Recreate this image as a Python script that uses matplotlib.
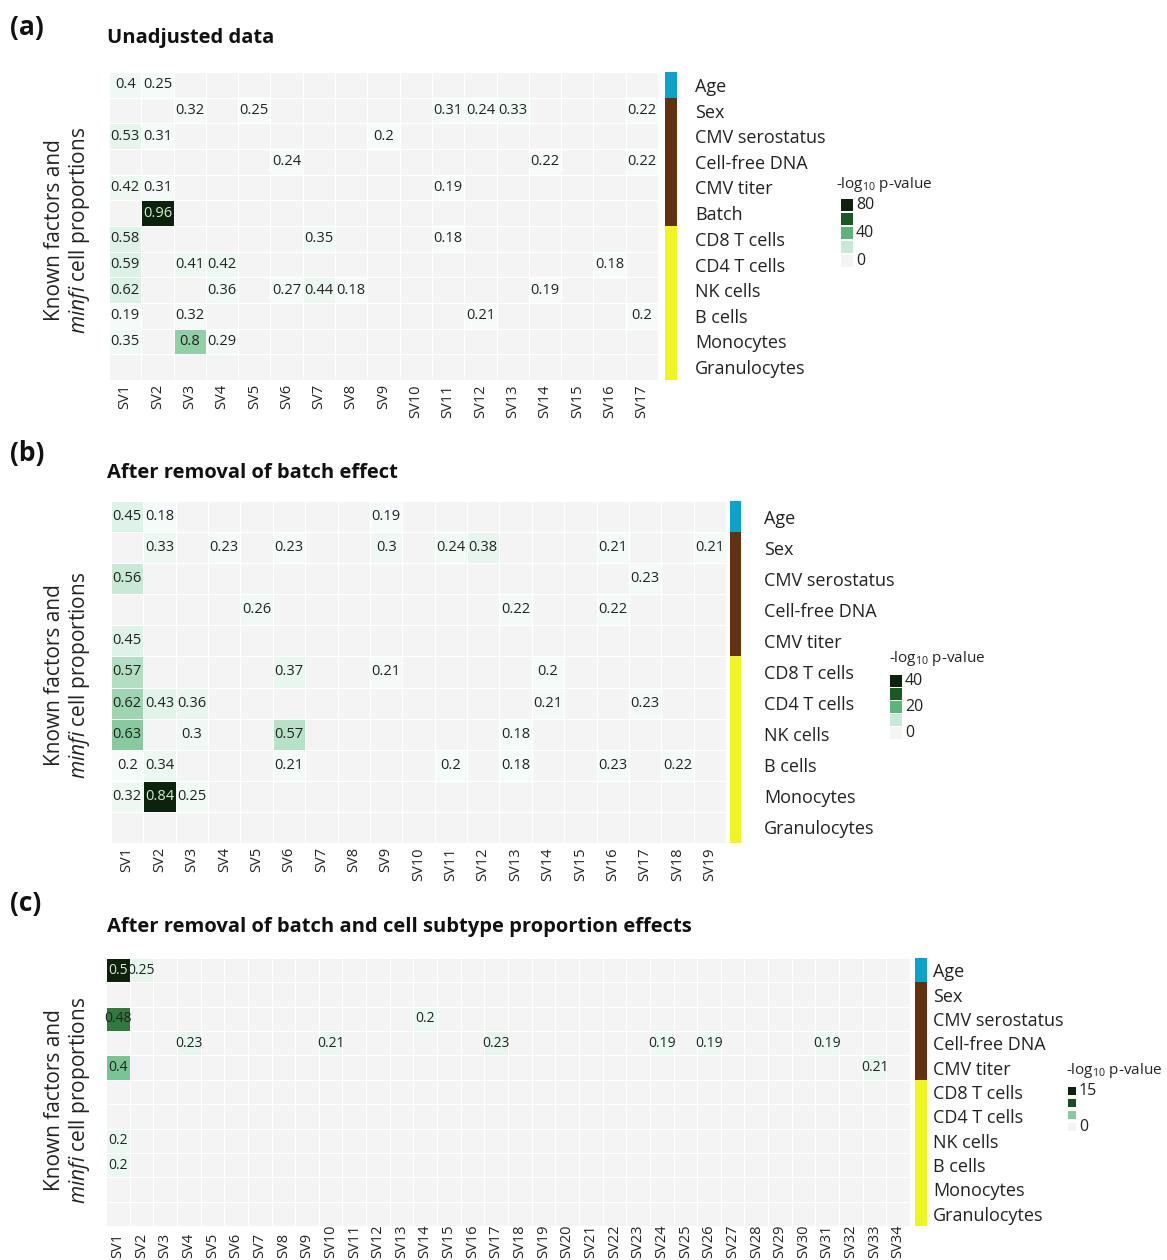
import numpy as np
import matplotlib
matplotlib.use("Agg")
import matplotlib.pyplot as plt
from matplotlib.colors import LinearSegmentedColormap, ListedColormap
from matplotlib.patches import Rectangle

plt.rcParams['font.family'] = ['Open Sans', 'DejaVu Sans']
plt.rcParams['mathtext.fontset'] = 'custom'
plt.rcParams['mathtext.rm'] = 'Open Sans'
plt.rcParams['mathtext.it'] = 'Open Sans:italic'

# ---- data ----
rows_a = ["Age", "Sex", "CMV serostatus", "Cell-free DNA", "CMV titer", "Batch",
          "CD8 T cells", "CD4 T cells", "NK cells", "B cells", "Monocytes", "Granulocytes"]
rows_bc = ["Age", "Sex", "CMV serostatus", "Cell-free DNA", "CMV titer",
           "CD8 T cells", "CD4 T cells", "NK cells", "B cells", "Monocytes", "Granulocytes"]
groups = {"Age": "age", "Sex": "known", "CMV serostatus": "known", "Cell-free DNA": "known",
          "CMV titer": "known", "Batch": "known", "CD8 T cells": "cell", "CD4 T cells": "cell",
          "NK cells": "cell", "B cells": "cell", "Monocytes": "cell", "Granulocytes": "cell"}
group_colors = {"age": "#0ba3c9", "known": "#63310f", "cell": "#eff51f"}

n_sv_a, n_sv_b, n_sv_c = 17, 19, 34

# (row, SV, correlation shown, -log10 p-value)
cells_a = [
    ("Age", 1, 0.4, 4.0), ("Age", 2, 0.25, 1.5),
    ("Sex", 3, 0.32, 2.4), ("Sex", 5, 0.25, 1.5), ("Sex", 11, 0.31, 2.2),
    ("Sex", 12, 0.24, 1.4), ("Sex", 13, 0.33, 2.6), ("Sex", 17, 0.22, 1.2),
    ("CMV serostatus", 1, 0.53, 8.0), ("CMV serostatus", 2, 0.31, 2.2), ("CMV serostatus", 9, 0.2, 1.0),
    ("Cell-free DNA", 6, 0.24, 1.4), ("Cell-free DNA", 14, 0.22, 1.2), ("Cell-free DNA", 17, 0.22, 1.2),
    ("CMV titer", 1, 0.42, 4.5), ("CMV titer", 2, 0.31, 2.2), ("CMV titer", 11, 0.19, 0.9),
    ("Batch", 2, 0.96, 85.0),
    ("CD8 T cells", 1, 0.58, 10.0), ("CD8 T cells", 7, 0.35, 3.0), ("CD8 T cells", 11, 0.18, 0.8),
    ("CD4 T cells", 1, 0.59, 11.0), ("CD4 T cells", 3, 0.41, 4.3), ("CD4 T cells", 4, 0.42, 4.5),
    ("CD4 T cells", 16, 0.18, 0.8),
    ("NK cells", 1, 0.62, 12.0), ("NK cells", 4, 0.36, 3.0), ("NK cells", 6, 0.27, 1.7),
    ("NK cells", 7, 0.44, 5.0), ("NK cells", 8, 0.18, 0.8), ("NK cells", 14, 0.19, 0.9),
    ("B cells", 1, 0.19, 0.9), ("B cells", 3, 0.32, 2.4), ("B cells", 12, 0.21, 1.1), ("B cells", 17, 0.2, 1.0),
    ("Monocytes", 1, 0.35, 3.0), ("Monocytes", 3, 0.8, 30.0), ("Monocytes", 4, 0.29, 2.0),
]

cells_b = [
    ("Age", 1, 0.45, 5.0), ("Age", 2, 0.18, 0.7), ("Age", 9, 0.19, 0.8),
    ("Sex", 2, 0.33, 2.3), ("Sex", 4, 0.23, 1.2), ("Sex", 6, 0.23, 1.2), ("Sex", 9, 0.3, 2.0),
    ("Sex", 11, 0.24, 1.3), ("Sex", 12, 0.38, 3.5), ("Sex", 16, 0.21, 1.0), ("Sex", 19, 0.21, 1.0),
    ("CMV serostatus", 1, 0.56, 10.0), ("CMV serostatus", 17, 0.23, 1.2),
    ("Cell-free DNA", 5, 0.26, 1.5), ("Cell-free DNA", 13, 0.22, 1.1), ("Cell-free DNA", 16, 0.22, 1.1),
    ("CMV titer", 1, 0.45, 5.0),
    ("CD8 T cells", 1, 0.57, 12.0), ("CD8 T cells", 6, 0.37, 3.0), ("CD8 T cells", 9, 0.21, 1.0),
    ("CD8 T cells", 14, 0.2, 0.9),
    ("CD4 T cells", 1, 0.62, 14.0), ("CD4 T cells", 2, 0.43, 4.5), ("CD4 T cells", 3, 0.36, 3.0),
    ("CD4 T cells", 14, 0.21, 1.0), ("CD4 T cells", 17, 0.23, 1.2),
    ("NK cells", 1, 0.63, 16.0), ("NK cells", 3, 0.3, 2.0), ("NK cells", 6, 0.57, 11.5),
    ("NK cells", 13, 0.18, 0.7),
    ("B cells", 1, 0.2, 0.9), ("B cells", 2, 0.34, 2.5), ("B cells", 6, 0.21, 1.0), ("B cells", 11, 0.2, 0.9),
    ("B cells", 13, 0.18, 0.7), ("B cells", 16, 0.23, 1.2), ("B cells", 18, 0.22, 1.1),
    ("Monocytes", 1, 0.32, 2.2), ("Monocytes", 2, 0.84, 42.0), ("Monocytes", 3, 0.25, 1.4),
]

cells_c = [
    ("Age", 1, 0.5, 15.0), ("Age", 2, 0.25, 1.5),
    ("CMV serostatus", 1, 0.48, 10.0), ("CMV serostatus", 14, 0.2, 1.0),
    ("Cell-free DNA", 4, 0.23, 1.3), ("Cell-free DNA", 10, 0.21, 1.1), ("Cell-free DNA", 17, 0.23, 1.3),
    ("Cell-free DNA", 24, 0.19, 0.9), ("Cell-free DNA", 26, 0.19, 0.9), ("Cell-free DNA", 31, 0.19, 0.9),
    ("CMV titer", 1, 0.4, 6.5), ("CMV titer", 33, 0.21, 1.1),
    ("NK cells", 1, 0.2, 1.0), ("B cells", 1, 0.2, 1.0),
]

vmax_a, vmax_b, vmax_c = 80, 40, 15
legend_levels_a, legend_labels_a = [80, 60, 40, 20, 0], ["80", "", "40", "", "0"]
legend_levels_b, legend_labels_b = [40, 30, 20, 10, 0], ["40", "", "20", "", "0"]
legend_levels_c, legend_labels_c = [15, 12, 6, 0], ["15", "", "", "0"]

titles = ["Unadjusted data", "After removal of batch effect",
          "After removal of batch and cell subtype proportion effects"]
tags = ["(a)", "(b)", "(c)"]

# ---- style ----
W, H = 1167, 1260
empty_color = "#f4f4f4"
cmap = LinearSegmentedColormap.from_list(
    "pv", [(0, "#f8fcfb"), (0.25, "#c7e9d5"), (0.5, "#5cb67a"), (0.75, "#1c5a22"), (1, "#0c220c")])

fig = plt.figure(figsize=(W / 100, H / 100), dpi=100)


def px_axes(left, top, right, bottom):
    return fig.add_axes([left / W, 1 - bottom / H, (right - left) / W, (bottom - top) / H])


panels = [
    dict(rows=rows_a, nsv=n_sv_a, cells=cells_a, vmax=vmax_a, lv=legend_levels_a, ll=legend_labels_a,
         heat=(109, 72, 658, 380), strip=(665, 72, 677, 380), pad=13, leg=(836, 185, 841, 199, 12, 14),
         ylab_y=230, title_y=38, tag_y=27, fs=10.5, bottom_labels=None),
    dict(rows=rows_bc, nsv=n_sv_b, cells=cells_b, vmax=vmax_b, lv=legend_levels_b, ll=legend_labels_b,
         heat=(111, 501, 726, 843), strip=(730, 501, 741, 843), pad=16.5, leg=(889, 659, 890, 675, 12, 13),
         ylab_y=675, title_y=473, tag_y=453, fs=10.5, bottom_labels=None),
    dict(rows=rows_bc, nsv=n_sv_c, cells=cells_c, vmax=vmax_c, lv=legend_levels_c, ll=legend_labels_c,
         heat=(106, 958, 910, 1226), strip=(915, 958, 927, 1226), pad=4.5, leg=(1066, 1071, 1068, 1087, 8, 12),
         ylab_y=1100, title_y=927, tag_y=903, fs=10, bottom_labels=1258),
]

for i, p in enumerate(panels):
    rows, nsv = p["rows"], p["nsv"]
    svs = [f"SV{k}" for k in range(1, nsv + 1)]
    logp = np.full((len(rows), nsv), np.nan)
    for r, sv, corr, lp in p["cells"]:
        logp[rows.index(r), sv - 1] = lp

    ax = px_axes(*p["heat"])
    ax.set_facecolor(empty_color)
    cm = cmap.copy()
    cm.set_bad(empty_color)
    ax.pcolormesh(np.ma.masked_invalid(logp), cmap=cm, vmin=0, vmax=p["vmax"],
                  edgecolors="#ffffff", linewidth=0.45)
    for r, sv, corr, lp in p["cells"]:
        dark = min(lp, p["vmax"]) / p["vmax"] > 0.7
        ax.text(sv - 0.5, rows.index(r) + 0.5, f"{corr:g}", ha="center", va="center",
                fontsize=p["fs"], color="#d6ebc9" if dark else "#222222")
    ax.set_xlim(0, nsv)
    ax.set_ylim(len(rows), 0)
    ax.set_xticks(np.arange(nsv) + 0.5)
    ax.set_yticks([])
    ax.tick_params(axis="x", length=0, pad=3)
    if p["bottom_labels"] is None:
        ax.set_xticklabels(svs, rotation=90, fontsize=10.5, color="#222222")
    else:
        # labels anchored at their bottom end, as in the cropped lower panel
        ax.set_xticklabels([])
        heat_h = p["heat"][3] - p["heat"][1]
        yb = -(p["bottom_labels"] - p["heat"][3]) / heat_h
        for k, s in enumerate(svs):
            ax.text(k + 0.5, yb, s, rotation=90, ha="center", va="bottom", fontsize=10.5,
                    color="#222222", transform=ax.get_xaxis_transform(), clip_on=False)
    for s in ax.spines.values():
        s.set_visible(False)

    # group colour strip with row labels
    sax = px_axes(*p["strip"])
    gnames = list(group_colors)
    gidx = np.array([[gnames.index(groups[r])] for r in rows])
    sax.pcolormesh(gidx, cmap=ListedColormap([group_colors[g] for g in gnames]), vmin=-0.5,
                   vmax=len(gnames) - 0.5)
    sax.set_ylim(len(rows), 0)
    sax.set_xticks([])
    sax.yaxis.tick_right()
    sax.set_yticks(np.arange(len(rows)) + 0.5)
    sax.set_yticklabels(rows, fontsize=13, color="#222222")
    sax.tick_params(axis="y", length=0, pad=p["pad"])
    for s in sax.spines.values():
        s.set_visible(False)

    # colour legend
    tx, ty, sx, sy, sz, step = p["leg"]
    fig.text(tx / W, 1 - ty / H, r"-log$_{10}$ p-value", fontsize=11, va="center", ha="left",
             color="#222222")
    for j, (lv, lab) in enumerate(zip(p["lv"], p["ll"])):
        top = sy + j * step
        col = empty_color if lv == 0 else cmap(lv / p["vmax"])
        fig.add_artist(Rectangle((sx / W, 1 - (top + sz) / H), sz / W, sz / H, facecolor=col,
                                 edgecolor="none", transform=fig.transFigure))
        if lab:
            fig.text((sx + sz + 3) / W, 1 - (top + sz / 2) / H, lab, fontsize=11.5, va="center",
                     ha="left", color="#222222")

    # titles, tags, y labels
    fig.text(107 / W, 1 - p["title_y"] / H, titles[i], fontsize=14.5, fontweight="bold",
             va="center", ha="left", color="#111111")
    fig.text(10 / W, 1 - p["tag_y"] / H, tags[i], fontsize=19, fontweight="bold",
             va="center", ha="left", color="#111111")
    fig.text(55 / W, 1 - p["ylab_y"] / H, "Known factors and", rotation=90, fontsize=15,
             va="center", ha="center", color="#222222")
    fig.text(79 / W, 1 - p["ylab_y"] / H, r"$\mathit{minfi}$ cell proportions", rotation=90,
             fontsize=15, va="center", ha="center", color="#222222")

fig.savefig("out.png", dpi=100, facecolor="white")
